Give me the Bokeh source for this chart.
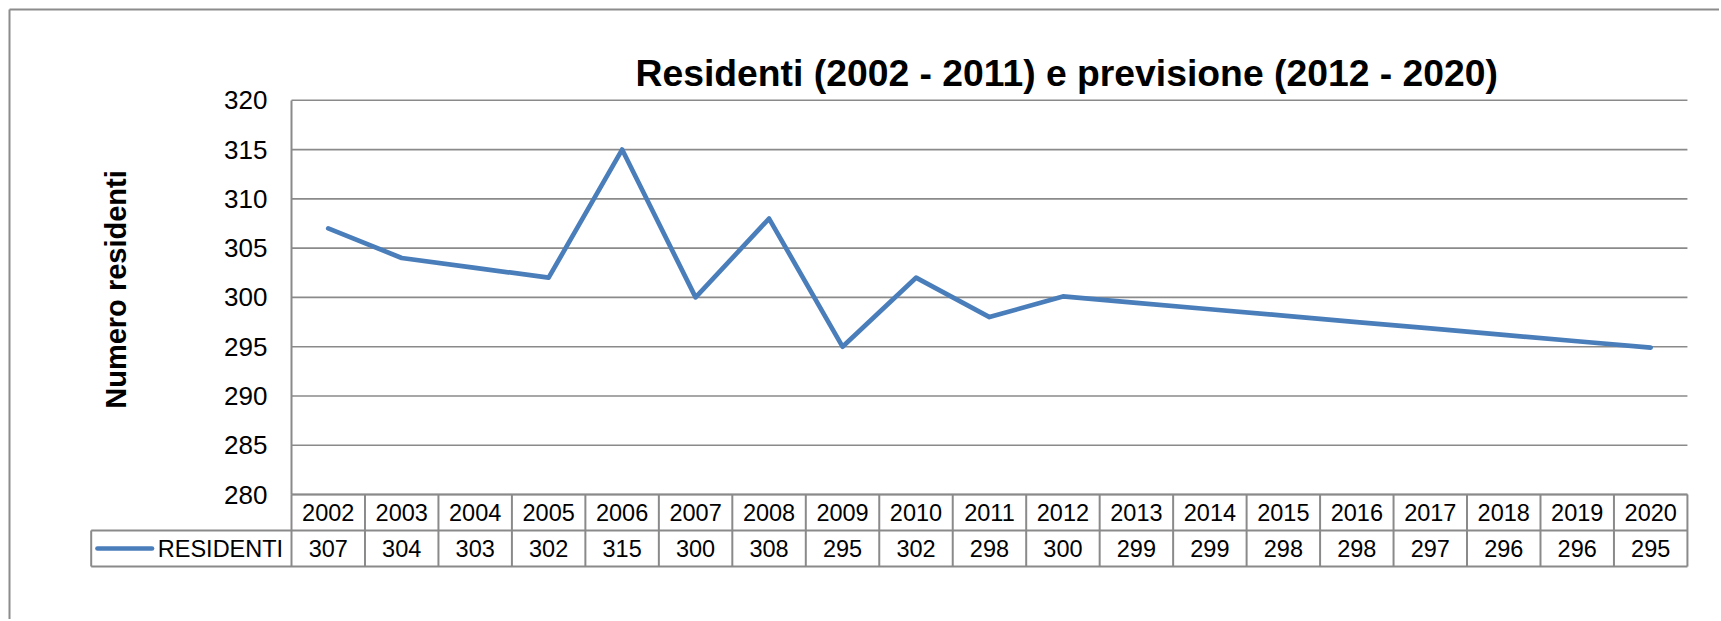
import math
from bokeh.plotting import figure
from bokeh.models import Range1d, FixedTicker, LinearAxis, ColumnDataSource
from bokeh.core.properties import value
from bokeh.embed import file_html
from bokeh.resources import INLINE

# ---------------- data ----------------
years = [2002, 2003, 2004, 2005, 2006, 2007, 2008, 2009, 2010, 2011,
         2012, 2013, 2014, 2015, 2016, 2017, 2018, 2019, 2020]
residenti = [307, 304, 303, 302, 315, 300, 308, 295, 302, 298,
             300.1, 299.45, 298.8, 298.15, 297.5, 296.85, 296.2, 295.55, 294.9]
table_values = ["307", "304", "303", "302", "315", "300", "308", "295", "302", "298",
                "300", "299", "299", "298", "298", "297", "296", "296", "295"]
y_ticks = [280, 285, 290, 295, 300, 305, 310, 315, 320]
series_name = "RESIDENTI"
title_text = "Residenti (2002 - 2011) e previsione (2012 - 2020)"
y_title = "Numero residenti"

# ---------------- layout (pixels) ----------------
W, H = 1719, 619
PLOT_LEFT = 291.0      # px of the left edge of the first year column
COL_W = 73.47          # px per year
Y_TOP_PX = 99.8        # px of y = 320
Y_BOT_PX = 494.0       # px of y = 280
ROW_H = 36.0           # px per table row
LEG_LEFT_PX = 90.7
BORDER_PX = 9.0

FONT = "Liberation Sans"
GRID = "#8a8a8a"
BLUE = "#4a7ebb"

x_start, x_end = years[0] - 0.5, years[-1] + 0.5
y_min, y_max = y_ticks[0], y_ticks[-1]
PX_PER_UNIT = (Y_BOT_PX - Y_TOP_PX) / (y_max - y_min)


def xd(px):
    return x_start + (px - PLOT_LEFT) / COL_W


def yd(px):
    return y_max - (px - Y_TOP_PX) / PX_PER_UNIT


def rd(px):  # table row coordinate: row 2 = top of table, 0 = bottom
    return 2 - (px - Y_BOT_PX) / ROW_H


p = figure(width=W, height=H, output_backend="svg", toolbar_location=None,
           x_range=Range1d(xd(0), xd(W)), y_range=Range1d(yd(H), yd(0)),
           x_axis_location=None, y_axis_location=None,
           min_border=0, min_border_left=0, min_border_right=0,
           min_border_top=0, min_border_bottom=0)
p.extra_y_ranges = {"tbl": Range1d(rd(H), rd(0))}
p.outline_line_color = None
p.background_fill_color = "white"
p.border_fill_color = "white"
p.grid.visible = False

# outer chart border (left and top)
p.segment(x0=[xd(BORDER_PX), xd(BORDER_PX)], y0=[yd(BORDER_PX), yd(BORDER_PX)],
          x1=[xd(BORDER_PX), xd(W + 5)], y1=[yd(H + 5), yd(BORDER_PX)],
          line_color="#8c8c8c", line_width=2)

# horizontal gridlines
p.segment(x0=[x_start] * len(y_ticks), y0=y_ticks,
          x1=[x_end] * len(y_ticks), y1=y_ticks,
          line_color=GRID, line_width=1.6)

# y axis
ax = LinearAxis(fixed_location=x_start, bounds=(y_min, y_max),
                ticker=FixedTicker(ticks=y_ticks))
ax.major_tick_line_color = None
ax.minor_tick_line_color = None
ax.major_tick_out = 0
ax.major_tick_in = 0
ax.axis_line_color = GRID
ax.axis_line_width = 2
ax.major_label_standoff = 24
ax.major_label_text_font = FONT
ax.major_label_text_font_size = "26px"
ax.major_label_text_color = "black"
p.add_layout(ax, "left")

# series
p.line(years, residenti, line_color=BLUE, line_width=4.7,
       line_join="round", line_cap="round")

# titles
p.text(x=[xd(635)], y=[yd(72.3)], text=[title_text], text_font=value(FONT),
       text_font_size="37.3px", text_font_style="bold", text_color="black",
       text_baseline="alphabetic", text_align="left")
p.text(x=[xd(115)], y=[yd(289)], text=[y_title], text_font=value(FONT),
       text_font_size="29px", text_font_style="bold", text_color="black",
       angle=math.pi / 2, text_align="center", text_baseline="middle")

# ---------------- data table ----------------
leg_left = xd(LEG_LEFT_PX)
p.segment(x0=[x_start, leg_left, leg_left], y0=[2, 1, 0],
          x1=[x_end, x_end, x_end], y1=[2, 1, 0],
          line_color=GRID, line_width=2, y_range_name="tbl")
vx = [yr - 0.5 for yr in years] + [x_end]
p.segment(x0=vx, y0=[0] * len(vx), x1=vx, y1=[2] * len(vx),
          line_color=GRID, line_width=2, y_range_name="tbl")
p.segment(x0=[leg_left], y0=[0], x1=[leg_left], y1=[1],
          line_color=GRID, line_width=2, y_range_name="tbl")

src = ColumnDataSource(dict(x=years, yr=[str(yr) for yr in years], v=table_values))
p.text(x="x", y=1.5, text="yr", source=src, text_font=value(FONT),
       text_font_size="23.5px", text_align="center", text_baseline="middle",
       text_color="black", y_range_name="tbl")
p.text(x="x", y=0.5, text="v", source=src, text_font=value(FONT),
       text_font_size="23.5px", text_align="center", text_baseline="middle",
       text_color="black", y_range_name="tbl")

# legend key
p.line(x=[xd(97.0), xd(151.5)], y=[0.5, 0.5], line_color=BLUE,
       line_width=4.7, line_cap="round", y_range_name="tbl")
p.text(x=[xd(157.3)], y=[0.5], text=[series_name], text_font=value(FONT),
       text_font_size="23.5px", text_align="left", text_baseline="middle",
       text_color="black", y_range_name="tbl")

open("out.html", "w").write(file_html(p, INLINE))
